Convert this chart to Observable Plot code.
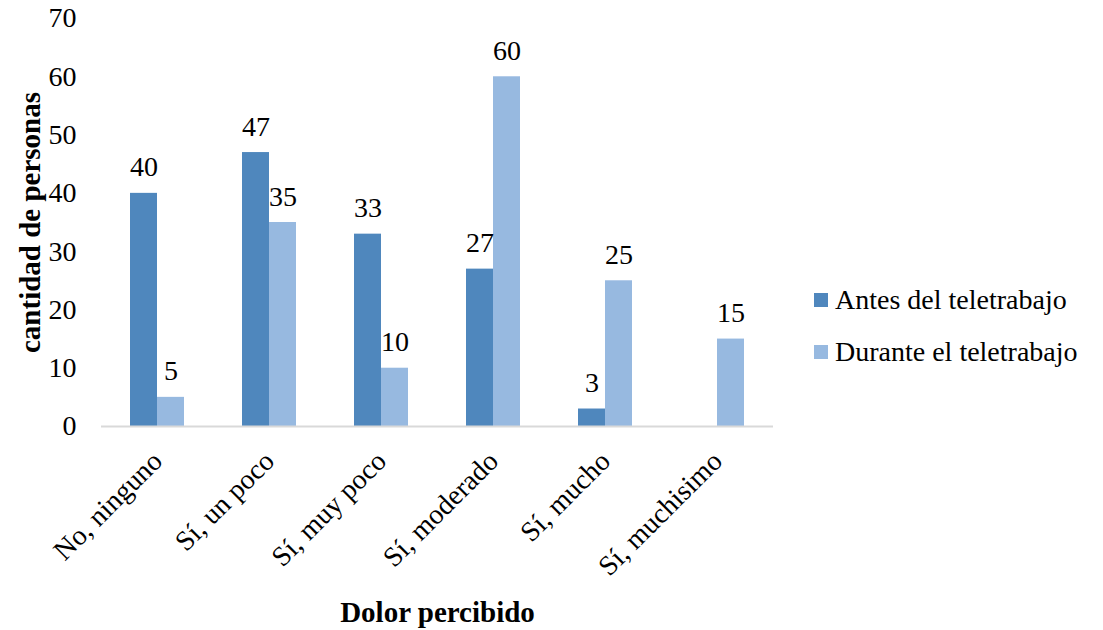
<!DOCTYPE html>
<html>
<head>
<meta charset="utf-8">
<script src="https://cdn.jsdelivr.net/npm/d3@7"></script>
<script src="https://cdn.jsdelivr.net/npm/@observablehq/plot@0.6"></script>
<style>
  html, body { margin: 0; padding: 0; background: #fff; }
  #wrap { position: relative; width: 1103px; height: 630px; }
  #legend { position: absolute; left: 814px; top: 274px; font-family: "Liberation Serif", serif; font-size: 28px; color: #000; }
  #legend .item { display: flex; align-items: center; height: 52px; }
  #legend .sw { width: 14px; height: 14px; margin-right: 7px; }
  g[aria-label="y-axis label"] text, g[aria-label="fx-axis label"] text { font-weight: bold; font-size: 29px; }
</style>
</head>
<body>
<div id="wrap"><div id="chart"></div><div id="legend"></div></div>
<script>
const categories = ["No, ninguno", "Sí, un poco", "Sí, muy poco", "Sí, moderado", "Sí, mucho", "Sí, muchisimo"];
const series = ["Antes del teletrabajo", "Durante el teletrabajo"];
const antes = [40, 47, 33, 27, 3, null];
const durante = [5, 35, 10, 60, 25, 15];
const yTicks = [0, 10, 20, 30, 40, 50, 60, 70];
const colors = ["#4f87bd", "#97b9e0"];

const data = categories.flatMap((c, i) => [
  {cat: c, serie: series[0], value: antes[i]},
  {cat: c, serie: series[1], value: durante[i]}
]).filter(d => d.value != null);

const chart = Plot.plot({
  width: 1103,
  height: 630,
  marginTop: 18,
  marginBottom: 204,
  marginLeft: 101,
  marginRight: 330,
  style: {fontFamily: "'Liberation Serif', serif", fontSize: "28px", color: "#000", background: "#fff"},
  fx: {domain: categories, paddingInner: 0.518, paddingOuter: 0.259},
  x: {domain: series, padding: 0, axis: null},
  y: {domain: [0, 70]},
  color: {domain: series, range: colors},
  marks: [
    Plot.axisY({ticks: yTicks, tickSize: 0, tickPadding: 54, label: "cantidad de personas", labelAnchor: "center", labelOffset: 111, labelArrow: false}),
    Plot.axisFx({anchor: "bottom", tickRotate: -45, tickSize: 0, tickPadding: 30, label: "Dolor percibido", labelAnchor: "center", labelOffset: 195, labelArrow: false}),
    Plot.barY(data, {fx: "cat", x: "serie", y: "value", fill: "serie"}),
    Plot.ruleY([0], {stroke: "#d9d9d9", strokeWidth: 2, insetLeft: -29, insetRight: -29}),
    Plot.text(data, {fx: "cat", x: "serie", y: "value", text: d => String(d.value), lineAnchor: "bottom", dy: -17})
  ]
});
document.getElementById("chart").appendChild(chart);

const legend = document.getElementById("legend");
series.forEach((s, i) => {
  const item = document.createElement("div");
  item.className = "item";
  const sw = document.createElement("span");
  sw.className = "sw";
  sw.style.background = colors[i];
  const t = document.createElement("span");
  t.textContent = s;
  item.appendChild(sw);
  item.appendChild(t);
  legend.appendChild(item);
});
</script>
</body>
</html>
